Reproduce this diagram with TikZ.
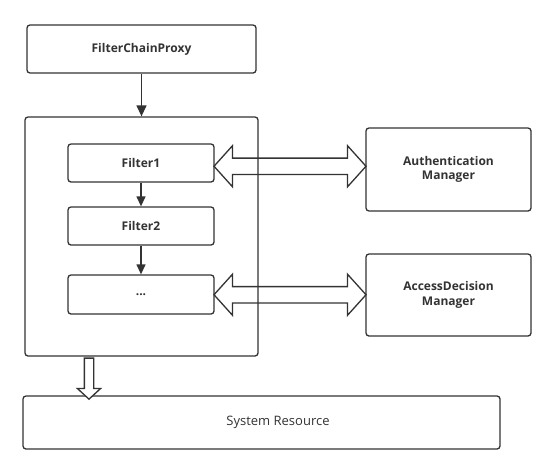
\documentclass[tikz,border=0pt]{standalone}
\usepackage{fontspec}
\setmainfont{Open Sans}
\usetikzlibrary{arrows.meta}
\usetikzlibrary{shapes.arrows}
\usetikzlibrary{calc}

\definecolor{linegray}{RGB}{51,51,51}

\tikzset{
  box/.style={draw=linegray, line width=1.3pt, rounded corners=3pt, fill=white,
    text=linegray, inner sep=0pt, align=center, font=\fontsize{12}{14.5}\selectfont\bfseries},
  flow/.style={draw=linegray, line width=1.3pt, -{Triangle[length=11pt,width=10pt]}},
  dblarrow/.style={shape=double arrow, draw=linegray, line width=1.3pt,
    minimum width=40pt, inner sep=7.5pt, double arrow head extend=12.5pt,
    double arrow tip angle=96},
  sglarrow/.style={shape=single arrow, draw=linegray, line width=1.3pt, fill=white,
    minimum width=22pt, inner sep=4pt, single arrow head extend=7pt,
    single arrow tip angle=95, shape border rotate=270}
}

\begin{document}
\begin{tikzpicture}[x=1pt,y=-1pt]
\useasboundingbox (0,0) rectangle (556,474);

\node[box, minimum width=229pt, minimum height=48pt] (proxy) at (141.5,49) {FilterChainProxy};
\node[box, minimum width=233pt, minimum height=239pt] (chain) at (141.5,236.5) {};

\node[box, minimum width=146pt, minimum height=38pt] (f1) at (141,163) {Filter1};
\node[box, minimum width=146pt, minimum height=38pt] (f2) at (141,226) {Filter2};
\node[box, minimum width=146pt, minimum height=39pt] (fn) at (141,294.5) {...};

\node[box, minimum width=165pt, minimum height=83pt] (auth) at (448.5,169.5) {Authentication\\Manager};
\node[box, minimum width=165pt, minimum height=82pt] (access) at (448.5,295) {AccessDecision\\Manager};

\node[box, minimum width=477pt, minimum height=53pt, font=\fontsize{13}{15}\selectfont] (res) at (261.5,422.5) {\hspace*{33pt}System Resource};

% flow arrows
\draw[flow] (proxy) -- (chain);
\draw[flow, -{Triangle[length=10pt,width=9pt]}] (f1) -- (f2);
\draw[flow, -{Triangle[length=10pt,width=9pt]}] (f2) -- (fn);

% hollow arrows
\node[dblarrow, minimum height=152pt] (a1) at ($(f1.east)!0.5!(auth.west)$) {};
\node[dblarrow, minimum height=152pt] (a2) at ($(fn.east)!0.5!(access.west)$) {};
\node[sglarrow, minimum height=41pt] (down) at (89,376.5) {};

\end{tikzpicture}
\end{document}
